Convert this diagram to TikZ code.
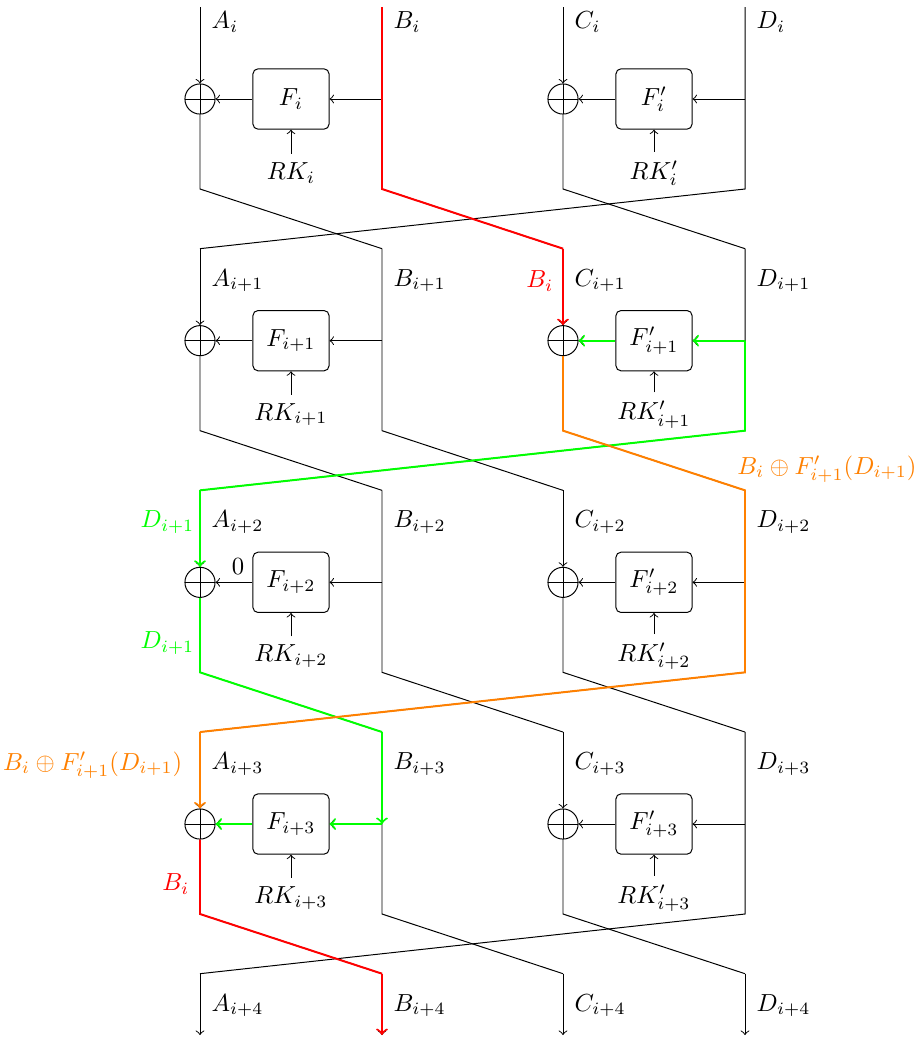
\documentclass[tikz,border=0pt]{standalone}
\usetikzlibrary{positioning}

\begin{document}
\begin{tikzpicture}[x=0.405pt, y=-0.405pt,
    xor node/.style={circle,draw,inner sep=0pt,minimum size=12.2pt,
      path picture={\draw (path picture bounding box.north) -- (path picture bounding box.south)
                          (path picture bounding box.west) -- (path picture bounding box.east);}},
    f node/.style={draw,rounded corners=2pt,minimum width=30.8pt,minimum height=24.4pt},
    way/.style={thick}]

  \useasboundingbox (0,0) rectangle (924,1038);

  % lines of the four branches
  \foreach \r in {0,...,4} {
    \pgfmathsetmacro\ym{99+241.67*\r}
    \pgfmathsetmacro\yt{\r==0 ? 7 : \ym-92}
    \pgfmathsetmacro\yb{\r==4 ? 1035 : \ym+90}
    \pgfmathsetmacro\yl{\r==0 ? 22 : \ym-60}
    \def\s{\ifnum\r=0 i\else i+\r\fi}
    \foreach \col/\xx in {A/200,B/382,C/563,D/745} {
      \coordinate (\col\r-t) at (\xx,\yt);
      \coordinate (\col\r-m) at (\xx,\ym);
      \coordinate (\col\r-b) at (\xx,\yb);
      \node[anchor=west] (l\col\r) at (\xx+3,\yl) {$\col_{\s}$};
    }
  }

  % one round each
  \foreach \r in {0,...,3} {
    \pgfmathsetmacro\ym{99+241.67*\r}
    \pgfmathtruncatemacro\n{\r+1}
    \def\s{\ifnum\r=0 i\else i+\r\fi}
    \node[xor node] (xl\r) at (A\r-m) {};
    \node[f node] (fl\r) at (291,\ym) {$F_{\s}$};
    \node (kl\r) at (291,\ym+74) {$RK_{\s}$};
    \node[xor node] (xr\r) at (C\r-m) {};
    \node[f node] (fr\r) at (654,\ym) {$F'_{\s}$};
    \node (kr\r) at (654,\ym+74) {$RK'_{\s}$};

    \draw[->] (A\r-t) -- (xl\r);
    \draw (xl\r) -- (A\r-b) -- (B\n-t);
    \draw (B\r-t) -- (B\r-b) -- (C\n-t);
    \draw[->] (B\r-m) -- (fl\r);
    \draw[->] (fl\r) -- (xl\r);
    \draw[->] (kl\r) -- (fl\r);
    \draw[->] (C\r-t) -- (xr\r);
    \draw (xr\r) -- (C\r-b) -- (D\n-t);
    \draw (D\r-t) -- (D\r-b) -- (A\n-t);
    \draw[->] (D\r-m) -- (fr\r);
    \draw[->] (fr\r) -- (xr\r);
    \draw[->] (kr\r) -- (fr\r);
  }
  \foreach \col in {A,B,C,D}
    \draw[->] (\col4-t) -- (\col4-b);

  % B_i
  \draw[way,red] (B0-t) -- (B0-b) -- (C1-t);
  \draw[way,red,->] (C1-t) -- (xr1);
  \node[red,anchor=east] (bi1) at (562,281) {$B_i$};

  % D_{i+1}
  \draw[way,green,->] (D1-m) -- (fr1);
  \draw[way,green,->] (fr1) -- (xr1);
  \draw[way,green] (D1-m) -- (D1-b) -- (A2-t);
  \draw[way,green,->] (A2-t) -- (xl2);
  \node[green,anchor=east] (di1) at (203,522) {$D_{i+1}$};
  \node (zero) at (238,567) {$0$};
  \draw[way,green] (xl2) -- (A2-b) -- (B3-t);
  \draw[way,green,->] (B3-t) -- (B3-m);
  \draw[way,green,->] (B3-m) -- (fl3);
  \draw[way,green,->] (fl3) -- (xl3);
  \node[green,anchor=east] (di2) at (203,643) {$D_{i+1}$};

  % B_i xor F'
  \draw[way,orange] (xr1) -- (C1-b) -- (D2-t) -- (D2-b) -- (A3-t);
  \draw[way,orange,->] (A3-t) -- (xl3);
  \node[orange] (bf1) at (827,469) {$B_i \oplus F'_{i+1}(D_{i+1})$};
  \node[orange,anchor=east] (bf2) at (191,765) {$B_i \oplus F'_{i+1}(D_{i+1})$};

  % B_i again
  \draw[way,red] (xl3) -- (A3-b) -- (B4-t);
  \draw[way,red,->] (B4-t) -- (B4-b);
  \node[red,anchor=east] (bi2) at (198,884) {$B_i$};
\end{tikzpicture}
\end{document}
